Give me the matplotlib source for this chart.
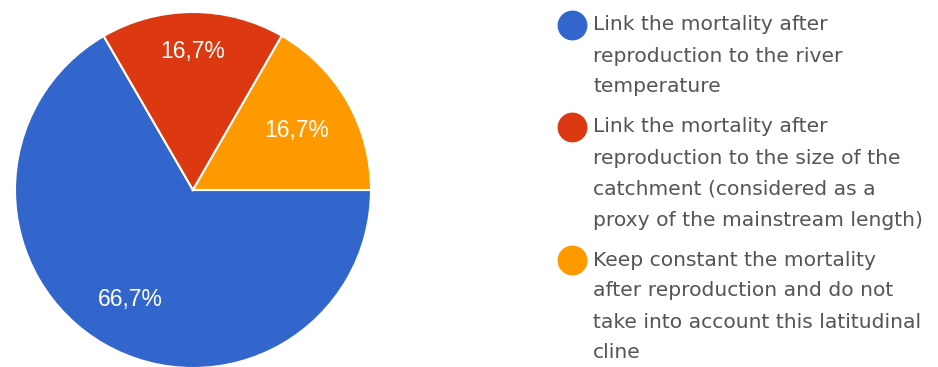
import matplotlib.pyplot as plt
import numpy as np

# answer shares (%)
shares = [66.7, 16.7, 16.7]
colors = ['#3366CC', '#DC3912', '#FF9900']
legend_lines = [
    ["Link the mortality after", "reproduction to the river", "temperature"],
    ["Link the mortality after", "reproduction to the size of the",
     "catchment (considered as a", "proxy of the mainstream length)"],
    ["Keep constant the mortality", "after reproduction and do not",
     "take into account this latitudinal", "cline"],
]

W, H = 938, 367
fig = plt.figure(figsize=(W / 100, H / 100), dpi=100)

# pie: center (193,190) px, radius 178 px
cx, cy, r = 193, 190, 178
ax = fig.add_axes([(cx - r) / W, (H - cy - r) / H, 2 * r / W, 2 * r / H])
wedges, _ = ax.pie(shares, colors=colors, startangle=0, counterclock=False,
                   wedgeprops=dict(edgecolor='white', linewidth=1.5))
ax.set_xlim(-1, 1)
ax.set_ylim(-1, 1)
ax.set_aspect('auto')
ax.axis('off')
for w in wedges:
    w.set_clip_on(False)

# percent labels
dist = [0.71, 0.78, 0.67]
for i, w in enumerate(wedges):
    ang = np.deg2rad((w.theta1 + w.theta2) / 2)
    txt = ("%.1f%%" % shares[i]).replace('.', ',')
    ax.text(dist[i] * np.cos(ang), dist[i] * np.sin(ang), txt, color='white',
            ha='center', va='center', fontsize=16.5, family='Liberation Sans')

# legend drawn in pixel space
lax = fig.add_axes([0, 0, 1, 1])
lax.set_xlim(0, W)
lax.set_ylim(H, 0)
lax.axis('off')
y = 25
step = 31
gap = 9
for i, lines in enumerate(legend_lines):
    lax.scatter([572], [y], s=420, color=colors[i], zorder=3)
    for j, line in enumerate(lines):
        lax.text(593, y + j * step, line, fontsize=14.6, color='#555555',
                 va='center', ha='left', family='DejaVu Sans')
    y += len(lines) * step + gap

fig.savefig('out.png', dpi=100)
